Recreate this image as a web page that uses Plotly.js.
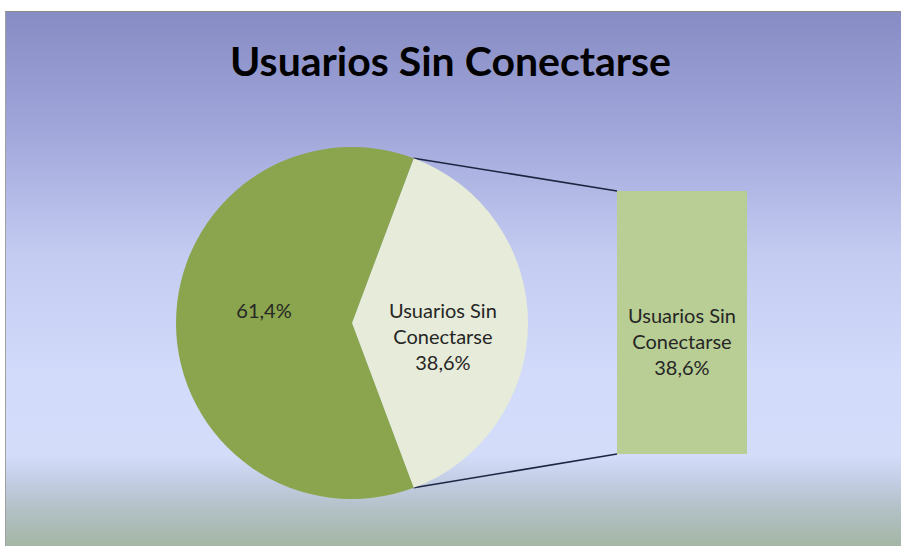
<!DOCTYPE html>
<html>
<head>
<meta charset="utf-8">
<script src="https://cdn.plot.ly/plotly-3.0.1.min.js"></script>
<style>
  html, body { margin:0; padding:0; background:#ffffff; }
  #wrap { position:relative; width:901px; height:546px; overflow:hidden; }
  #bg { position:absolute; left:5px; top:11px; width:896px; height:535px;
        border-top:1px solid #8c8c8c; border-left:1px solid #a0a0a0;
        background: linear-gradient(to bottom,
          #878dc4 0%, #9ea3d8 20%, #c3cbf1 45%, #d2dbfa 68%, #d3dcf9 83%,
          #c2cce2 88%, #b3c1c6 93%, #a3b5a3 100%); }
  #chart { position:absolute; left:0; top:0; width:901px; height:546px; }
</style>
</head>
<body>
<div id="wrap"><div id="bg"></div><div id="chart"></div></div>
<script>
// ---- data ----
const sliceLabels = ["Usuarios Sin Conectarse", "Usuarios Conectados"];
const sliceValues = [38.6, 61.4];
const barLabel = "Usuarios Sin Conectarse";
const barValue = 38.6;
const titleText = "Usuarios Sin Conectarse";

// ---- geometry (layout only) ----
const W = 901, H = 546;
const cx = 352, cy = 323, R = 176;          // pie centre / radius in px
const bx0 = 617, bx1 = 747, by0 = 191, by1 = 454; // bar box in px

const total = sliceValues.reduce((a,b)=>a+b,0);
const half = sliceValues[0] / total * 180;   // half-angle of the exploded slice
const startRot = 90 - half;                  // slice centred on 3 o'clock

const rad = a => a * Math.PI / 180;
const pTop = [cx + R*Math.sin(rad(startRot)), cy - R*Math.cos(rad(startRot))];
const pBot = [cx + R*Math.sin(rad(startRot + 2*half)), cy - R*Math.cos(rad(startRot + 2*half))];

const font = "Lato, 'Open Sans', sans-serif";
const wrapLabel = s => s.replace(" Conectarse", "<br>Conectarse");
const pct = v => (v/total*100).toFixed(1).replace(".", ",") + "%";

const pie = {
  type: "pie",
  labels: sliceLabels,
  values: sliceValues,
  sort: false,
  direction: "clockwise",
  rotation: startRot,
  marker: { colors: ["#e6ecd9", "#8aa54d"], line: { width: 0 } },
  text: [" <br>" + wrapLabel(sliceLabels[0]) + "<br>" + pct(sliceValues[0]),
         pct(sliceValues[1]) + "<br> "],
  textinfo: "text",
  textposition: "inside",
  insidetextorientation: "horizontal",
  textfont: { family: font, size: 20, color: "#262626" },
  domain: { x: [(cx-R)/W, (cx+R)/W], y: [(H-cy-R)/H, (H-cy+R)/H] },
  hoverinfo: "label+percent",
  showlegend: false
};

const bar = {
  type: "bar",
  x: [0],
  y: [barValue],
  xaxis: "x2", yaxis: "y2",
  marker: { color: "#b9ce95", line: { width: 0 } },
  width: 1,
  showlegend: false,
  hoverinfo: "skip"
};

const connectors = {
  type: "scatter",
  mode: "lines",
  x: [pTop[0], bx0, null, pBot[0], bx0],
  y: [pTop[1], by0, null, pBot[1], by1],
  xaxis: "x3", yaxis: "y3",
  line: { color: "#1c2541", width: 1.6 },
  hoverinfo: "skip",
  showlegend: false
};

const hidden = { visible: false, fixedrange: true };

const layout = {
  width: W, height: H,
  margin: { l: 0, r: 0, t: 0, b: 0 },
  paper_bgcolor: "rgba(0,0,0,0)",
  plot_bgcolor: "rgba(0,0,0,0)",
  separators: ",.",
  title: { text: "<b>" + titleText + "</b>", x: 0.5, xanchor: "center",
           y: 1 - 62/H, yanchor: "middle",
           font: { family: font, size: 41, color: "#000000" } },
  xaxis2: Object.assign({ domain: [bx0/W, bx1/W], range: [-0.5, 0.5], anchor: "y2" }, hidden),
  yaxis2: Object.assign({ domain: [(H-by1)/H, (H-by0)/H], range: [0, barValue], anchor: "x2" }, hidden),
  xaxis3: Object.assign({ domain: [0, 1], range: [0, W], anchor: "y3" }, hidden),
  yaxis3: Object.assign({ domain: [0, 1], range: [H, 0], anchor: "x3" }, hidden),
  bargap: 0,
  annotations: [{
    xref: "x2", yref: "y2", x: 0, y: barValue * 0.43,
    text: wrapLabel(barLabel) + "<br>" + pct(sliceValues[0]),
    showarrow: false, align: "center",
    font: { family: font, size: 20, color: "#262626" }
  }]
};

Plotly.newPlot("chart", [pie, bar, connectors], layout, { displayModeBar: false, staticPlot: true });
</script>
</body>
</html>
